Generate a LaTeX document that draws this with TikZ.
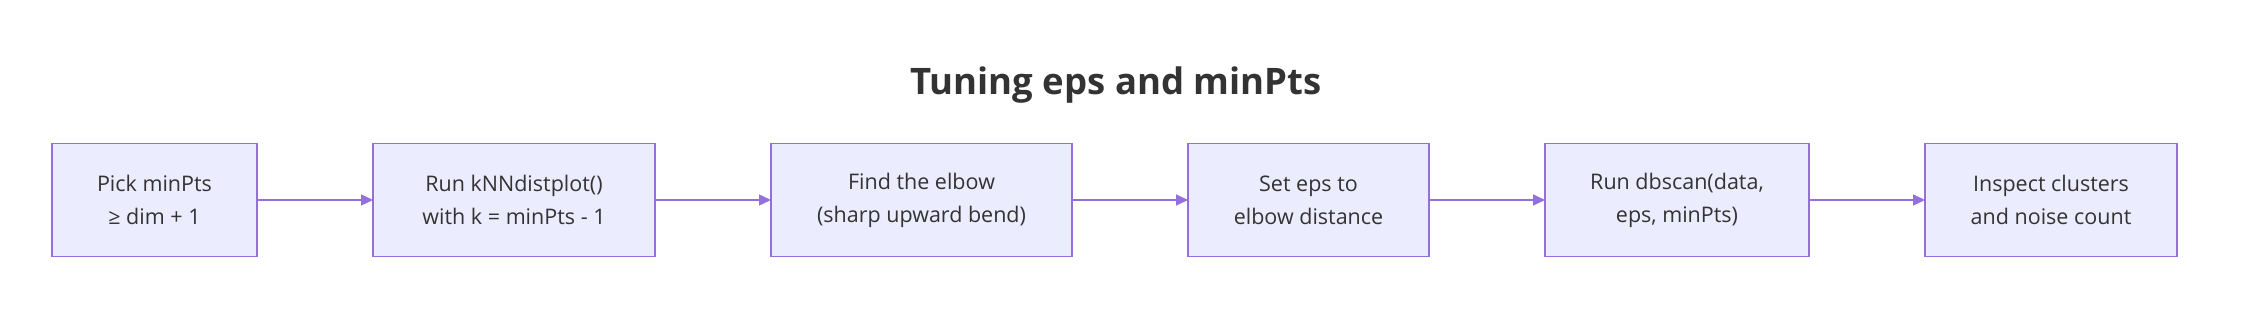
\documentclass[tikz,border=0pt]{standalone}
\usepackage{fontspec}
\setmainfont{Open Sans}
\usepackage{tikz}
\usetikzlibrary{arrows.meta,positioning}
\definecolor{ink}{HTML}{333333}
\definecolor{lav}{HTML}{9370DB}
\definecolor{lavpale}{HTML}{ECECFF}

\begin{document}
\begin{tikzpicture}[x=1pt,y=1pt,node distance=116pt,>={Triangle[length=12pt,width=11pt]},
 box/.style={draw=lav,line width=1.4pt,fill=lavpale,minimum width=#1,minimum height=113.5pt,outer sep=0pt,align=center,text=ink,font=\fontsize{21.5}{33}\selectfont},
 ar/.style={->,line width=1.4pt,color=lav}]
 \useasboundingbox (0,0) rectangle (2248,312);
 \node[anchor=base,text=ink,font=\fontsize{36.5}{42}\selectfont\bfseries] (title) at (1116,217) {Tuning eps and minPts};
 \node[box=205pt,anchor=west] (b1) at (52,112) {Pick minPts\\≥ dim + 1};
 \node[box=282pt,right=of b1] (b2) {Run kNNdistplot()\\with k = minPts - 1};
 \node[box=301pt,right=of b2] (b3) {Find the elbow\\(sharp upward bend)};
 \node[box=241pt,right=of b3] (b4) {Set eps to\\elbow distance};
 \node[box=264pt,right=of b4] (b5) {Run dbscan(data,\\eps, minPts)};
 \node[box=252pt,right=of b5] (b6) {Inspect clusters\\and noise count};
 \foreach \x/\y in {b1/b2,b2/b3,b3/b4,b4/b5,b5/b6} \draw[ar] (\x)--(\y);
\end{tikzpicture}
\end{document}
